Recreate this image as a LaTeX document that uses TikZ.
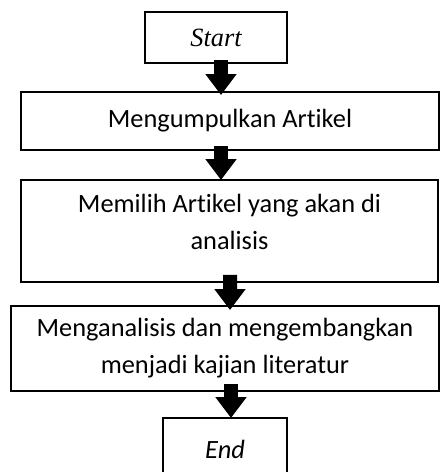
\documentclass[tikz,border=0pt]{standalone}
\usepackage{fontspec}
\setmainfont{Carlito}[Ligatures=NoCommon]
\newfontfamily\serifit{Liberation Serif}
\usetikzlibrary{arrows.meta, calc}

\begin{document}
\begin{tikzpicture}[x=0.02cm, y=-0.02cm,
  box/.style={draw, line width=1.4pt, inner sep=0pt, outer sep=0pt, align=center, font=\fontsize{15}{21}\selectfont},
  flow/.style={line width=0.28cm, -{Triangle[width=0.6cm, length=0.42cm]}}]
  \clip (0,0) rectangle (440,472);
  \node[box, minimum width=2.84cm, minimum height=1.02cm] (start) at (216,37.5) {\serifit\fontsize{15}{18}\selectfont\itshape Start};
  \node[box, minimum width=8.36cm, minimum height=1.16cm] (collect) at (230,121) {Mengumpulkan Artikel};
  \node[box, minimum width=8.34cm, minimum height=2.04cm, text depth=10pt] (select) at (229.5,231) {Memilih Artikel yang akan di\\analisis};
  \node[box, minimum width=8.56cm, minimum height=1.70cm] (analyze) at (225,348.5) {Menganalisis dan mengembangkan\\menjadi kajian literatur};
  \node[box, minimum width=2.48cm, minimum height=1.24cm] (finish) at (225,449) {\itshape End};
  \draw[flow] ($(start.south)+(5,-3)$) -- ($(collect.north)+(-9,3)$);
  \draw[flow] ($(collect.south)+(-9,-4)$) -- ($(select.north)+(-8.5,0)$);
  \draw[flow] ($(select.south)+(0.5,-7)$) -- ($(analyze.north)+(5,4)$);
  \draw[flow] ($(analyze.south)+(6,-7)$) -- ($(finish.north)+(6,0)$);
\end{tikzpicture}
\end{document}
